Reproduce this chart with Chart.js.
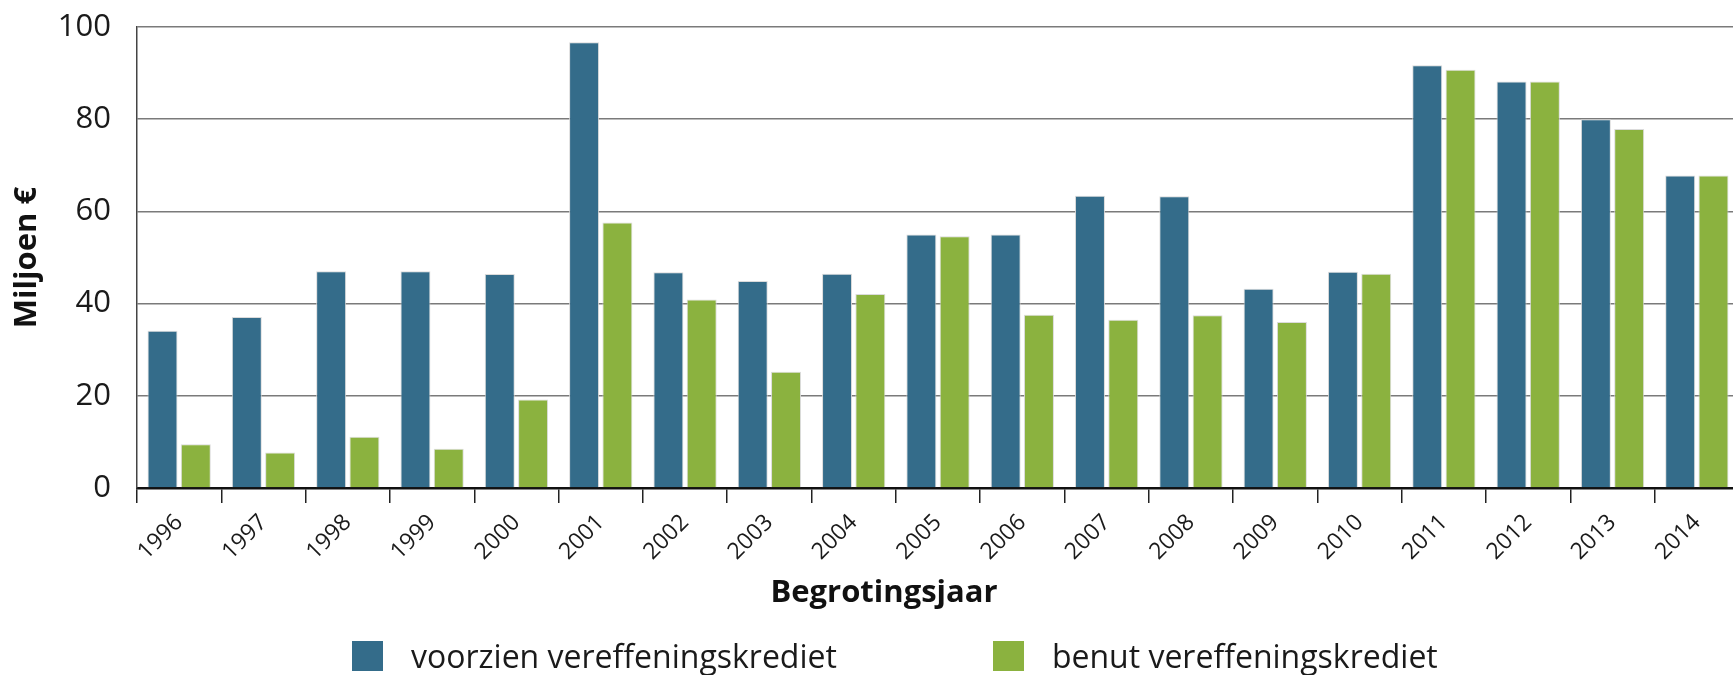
<!DOCTYPE html>
<html lang="nl">
<head>
<meta charset="utf-8">
<title>Vereffeningskrediet</title>
<script src="https://cdn.jsdelivr.net/npm/chart.js@4/dist/chart.umd.min.js"></script>
<style>
    html, body { margin: 0; padding: 0; background: #fff; overflow: hidden; width: 1733px; height: 675px; }
    #wrap { position: absolute; left: 0; top: 0; width: 1742px; height: 675px; }
    #xtitle {
        position: absolute; left: 884px; top: 569px; transform: translateX(-50%);
        font: bold 31px "Open Sans", sans-serif; color: #111; white-space: nowrap;
    }
    #legend {
        position: absolute; left: 352px; top: 634px; display: flex; align-items: center;
        font: 32px "Open Sans", sans-serif; color: #1a1a1a; white-space: nowrap;
    }
    .item { display: flex; align-items: center; }
    .item + .item { margin-left: 156px; }
    .swatch { width: 31px; height: 30px; margin-right: 28px; }
</style>
</head>
<body>
<div id="wrap"><canvas id="chart" width="1742" height="675"></canvas></div>
<div id="xtitle">Begrotingsjaar</div>
<div id="legend"></div>
<script>
// Gegevens (miljoen euro)
const jaren = ['1996', '1997', '1998', '1999', '2000', '2001', '2002', '2003', '2004', '2005',
    '2006', '2007', '2008', '2009', '2010', '2011', '2012', '2013', '2014'];
const voorzien = [34.1, 37.1, 47.0, 47.0, 46.4, 96.7, 46.8, 44.9, 46.5, 55.0,
    55.0, 63.4, 63.3, 43.2, 46.9, 91.7, 88.2, 80.0, 67.8];
const benut = [9.5, 7.7, 11.1, 8.5, 19.2, 57.6, 40.9, 25.2, 42.1, 54.6,
    37.6, 36.5, 37.5, 36.0, 46.5, 90.7, 88.2, 77.9, 67.8];
const reeksen = ['voorzien vereffeningskrediet', 'benut vereffeningskrediet'];
const kleuren = ['#346c8a', '#8bb23f'];
const yTicks = [0, 20, 40, 60, 80, 100];

const fontFam = '"Open Sans", sans-serif';

document.addEventListener('DOMContentLoaded', function () {
    const chart = new Chart(document.getElementById('chart'), {
        type: 'bar',
        data: {
            labels: jaren,
            datasets: [voorzien, benut].map((d, i) => ({
                label: reeksen[i],
                data: d,
                backgroundColor: kleuren[i],
                borderColor: 'rgba(215,215,215,0.9)',
                borderWidth: 1,
                barPercentage: 0.9,
                categoryPercentage: 0.79
            }))
        },
        options: {
            responsive: false,
            animation: false,
            layout: { padding: { top: 27, right: 3, left: 0, bottom: 0 } },
            plugins: {
                legend: { display: false },
                tooltip: { enabled: false }
            },
            scales: {
                x: {
                    afterFit: s => {
                        s.height = 187;
                        s.paddingLeft = 0;
                        s.paddingRight = 0;
                    },
                    grid: {
                        offset: true,
                        drawOnChartArea: false,
                        drawTicks: true,
                        tickLength: 15,
                        color: '#222',
                        lineWidth: 1.5
                    },
                    border: { display: true, color: '#111', width: 2.5 },
                    ticks: {
                        minRotation: 45,
                        maxRotation: 45,
                        padding: 6,
                        color: '#1a1a1a',
                        font: { family: fontFam, size: 23 }
                    }
                },
                y: {
                    min: 0,
                    max: 100,
                    afterFit: s => {
                        s.width = 137;
                        s.paddingTop = 0;
                        s.paddingBottom = 0;
                    },
                    afterBuildTicks: s => { s.ticks = yTicks.map(v => ({ value: v })); },
                    grid: { color: '#7a7a7a', lineWidth: 1.5, drawTicks: false },
                    border: { display: true, color: '#444', width: 1.5 },
                    ticks: {
                        padding: 26,
                        color: '#1a1a1a',
                        font: { family: fontFam, size: 31 }
                    },
                    title: {
                        display: true,
                        text: 'Miljoen €',
                        color: '#111',
                        padding: { top: 9, bottom: 0 },
                        font: { family: fontFam, size: 31, weight: 'bold' }
                    }
                }
            }
        }
    });

    // Legenda onder de grafiek
    const legend = document.getElementById('legend');
    chart.data.datasets.forEach(ds => {
        const item = document.createElement('div');
        item.className = 'item';
        const sw = document.createElement('span');
        sw.className = 'swatch';
        sw.style.background = ds.backgroundColor;
        const txt = document.createElement('span');
        txt.textContent = ds.label;
        item.appendChild(sw);
        item.appendChild(txt);
        legend.appendChild(item);
    });
});
</script>
</body>
</html>
